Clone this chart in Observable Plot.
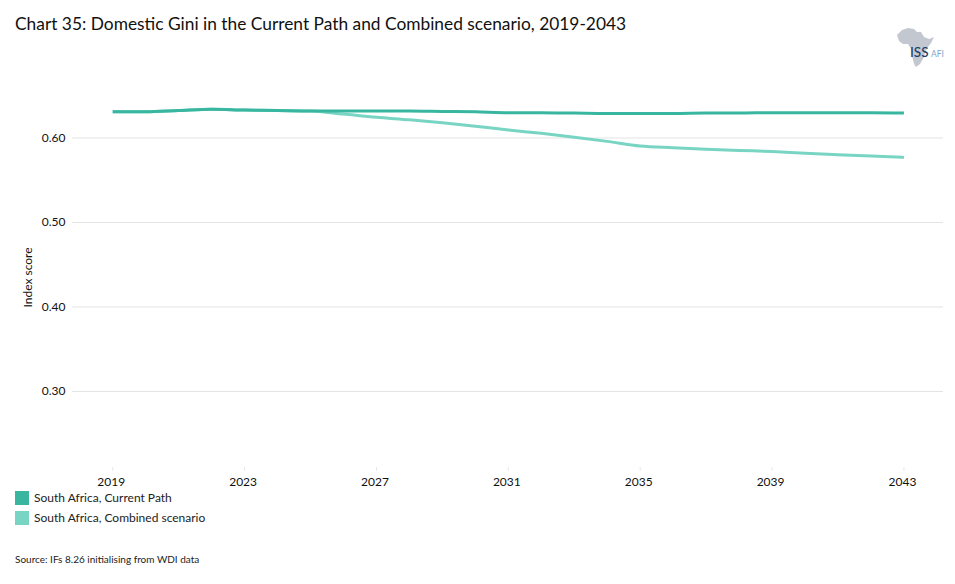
<!DOCTYPE html>
<html><head><meta charset="utf-8">
<script src="https://cdn.jsdelivr.net/npm/d3@7"></script>
<script src="https://cdn.jsdelivr.net/npm/@observablehq/plot@0.6"></script>
<style>
html,body{margin:0;padding:0;background:#fff;}
body{width:955px;height:584px;position:relative;overflow:hidden;font-family:Lato,sans-serif;color:#111;}
#title{position:absolute;left:15px;top:11.5px;font-size:17.35px;line-height:24px;white-space:nowrap;}
#chart{position:absolute;left:0;top:53px;}
#chart svg{display:block;overflow:visible;}
.lg{position:absolute;left:15px;width:14px;height:14px;}
.lt{position:absolute;left:34px;font-size:12px;line-height:14px;white-space:nowrap;color:#222;}
#src{position:absolute;left:15px;top:553px;font-size:10px;line-height:13px;color:#222;white-space:nowrap;}
#logo{position:absolute;left:893px;top:24px;}
</style></head><body>
<div id="title">Chart 35: Domestic Gini in the Current Path and Combined scenario, 2019-2043</div>
<svg id="logo" width="54" height="46" viewBox="0 0 54 46">
<path fill="#c3c8d0" d="M4 11 L9 6 L15 4 L21 5 L24 8 L28 8 L31 13 L36 15 L41 13 L38 19 L34 24 L32 28 L31 33 L27 40 L23 43 L21 40 L19 32 L18 25 L15 20 L10 20 L6 17 Z"/>
<text x="17" y="33" font-family="Lato,sans-serif" font-size="13.5" font-weight="500" fill="#1f3f66">ISS</text>
<text x="38" y="33" font-family="Lato,sans-serif" font-size="8.5" fill="#7fa8cc">AFI</text>
</svg>
<div id="chart"></div>
<div class="lg" style="top:491px;background:#38b6a0"></div><div class="lt" style="top:491px">South Africa, Current Path</div>
<div class="lg" style="top:511px;background:#79d5c3"></div><div class="lt" style="top:511px">South Africa, Combined scenario</div>
<div id="src">Source: IFs 8.26 initialising from WDI data</div>
<script>
const years = [2019,2020,2021,2022,2023,2024,2025,2026,2027,2028,2029,2030,2031,2032,2033,2034,2035,2036,2037,2038,2039,2040,2041,2042,2043];
const currentPath = [0.631,0.631,0.6325,0.634,0.633,0.6325,0.632,0.632,0.632,0.632,0.6315,0.631,0.630,0.630,0.6295,0.629,0.629,0.629,0.6295,0.6295,0.630,0.630,0.630,0.630,0.6295];
const combined = [0.631,0.631,0.6325,0.634,0.633,0.6325,0.632,0.6283,0.6245,0.6215,0.618,0.614,0.6095,0.6055,0.601,0.596,0.5905,0.5885,0.5868,0.5853,0.584,0.582,0.5803,0.5787,0.577];
const yTicks = [0.3,0.4,0.5,0.6];
const xTicks = [2019,2023,2027,2031,2035,2039,2043];
const rows = s => years.map((year,i)=>({year,value:s[i]}));
const plot = Plot.plot({
  width:955,height:434,marginTop:0,marginBottom:20,marginLeft:72,marginRight:12,
  style:{fontFamily:"Lato,sans-serif",fontSize:"12px",color:"#111",background:"transparent"},
  x:{domain:[2017.78,2044.2]},
  y:{domain:[0.21,0.70]},
  marks:[
    Plot.ruleY(yTicks,{stroke:"#e3e3e3",strokeWidth:1}),
    Plot.line(rows(combined),{x:"year",y:"value",stroke:"#79d5c3",strokeWidth:3,strokeLinecap:"butt",curve:"monotone-x"}),
    Plot.line(rows(currentPath),{x:"year",y:"value",stroke:"#38b6a0",strokeWidth:3,strokeLinecap:"butt",curve:"monotone-x"}),
    Plot.axisY({ticks:yTicks,tickFormat:d=>d.toFixed(2),tickSize:0,tickPadding:7,label:null}),
    Plot.text(["Index score"],{frameAnchor:"left",textAnchor:"middle",rotate:-90,dx:-44,dy:17,fontSize:12}),
    Plot.axisX({ticks:xTicks,tickSize:4,stroke:"#e8e8e8",strokeOpacity:1,text:null,label:null}),
    Plot.axisX({ticks:xTicks,tickFormat:d=>String(d),tickSize:0,tickPadding:10,dx:-1.5,textStroke:"none",label:null})
  ]
});
document.getElementById("chart").appendChild(plot);
</script>
</body></html>
